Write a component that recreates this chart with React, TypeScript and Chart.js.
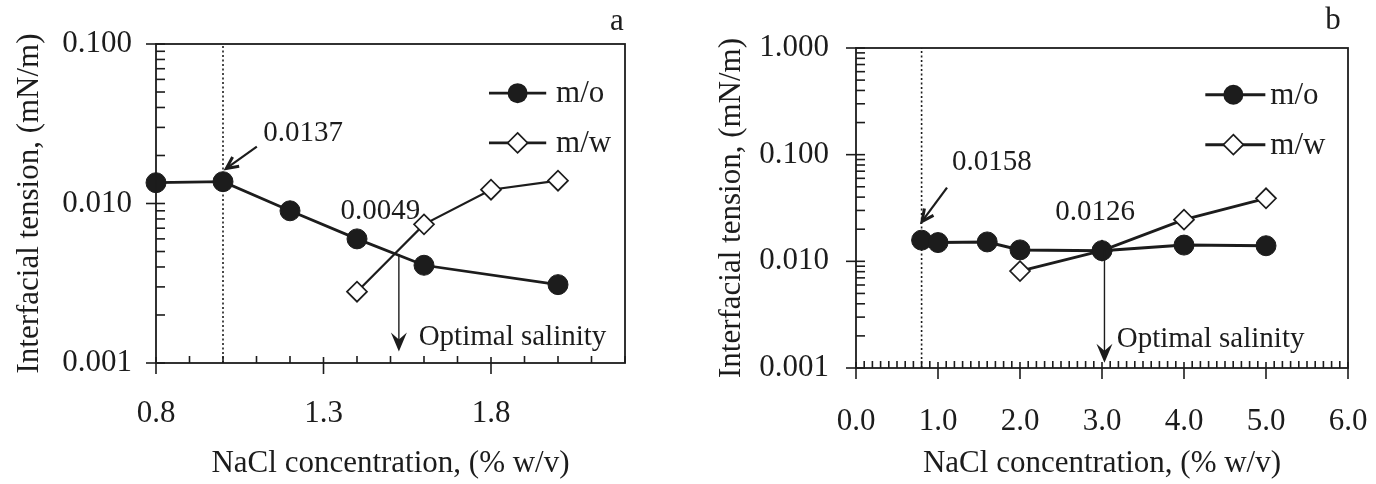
import { useEffect, useRef } from 'react';
import { Chart, registerables } from 'chart.js';

Chart.register(...registerables);

const FONT = '"Liberation Serif", "Times New Roman", Times, serif';
const INK = '#1c1c1c';

// ---------- Panel a data ----------
const saltA_mo = [0.8, 1.0, 1.2, 1.4, 1.6, 2.0];
const iftA_mo = [0.0135, 0.0137, 0.009, 0.006, 0.0041, 0.0031];
const saltA_mw = [1.4, 1.6, 1.8, 2.0];
const iftA_mw = [0.0028, 0.0074, 0.0122, 0.0139];
const xTicksA = [0.8, 1.3, 1.8];
const yTicksA = [0.001, 0.01, 0.1];

// ---------- Panel b data ----------
const saltB_mo = [0.8, 1.0, 1.6, 2.0, 3.0, 4.0, 5.0];
const iftB_mo = [0.0158, 0.015, 0.0152, 0.0128, 0.0126, 0.0142, 0.014];
const saltB_mw = [2.0, 3.0, 4.0, 5.0];
const iftB_mw = [0.0081, 0.0126, 0.0246, 0.039];
const xTicksB = [0, 1, 2, 3, 4, 5, 6];
const yTicksB = [0.001, 0.01, 0.1, 1];

const seriesNames = ['m/o', 'm/w'];
const xTitle = 'NaCl concentration, (% w/v)';
const yTitle = 'Interfacial tension, (mN/m)';

type Note = { text: string; x: number; y: number };
type Spec = {
  label: string;
  labelPos: [number, number];
  moX: number[]; moY: number[]; mwX: number[]; mwY: number[];
  xMin: number; xMax: number; xMajor: number[]; xMinorStep: number; xDigits: number;
  yMin: number; yMax: number; yTicks: number[];
  yAxisWidth: number; xAxisHeight: number; pad: { top: number; right: number };
  yTickPad: number; xTickPad: number; yTitlePad: number;
  lineW: number; mwLineW: number; moR: number; mwR: number;
  criticalX: number;
  notes: Note[];
  pointerFrom: [number, number]; pointerTo: [number, number];
  optimum: { x: number; yTop: number; yTip: number };
  optimumText: Note;
  legend: { x1: number; x2: number; xm: number; xt: number; y1: number; y2: number };
};

const specA: Spec = {
  label: 'a', labelPos: [617, 22],
  moX: saltA_mo, moY: iftA_mo, mwX: saltA_mw, mwY: iftA_mw,
  xMin: 0.8, xMax: 2.2, xMajor: xTicksA, xMinorStep: 0.1, xDigits: 1,
  yMin: 0.001, yMax: 0.1, yTicks: yTicksA,
  yAxisWidth: 156, xAxisHeight: 121, pad: { top: 44, right: 63 },
  yTickPad: 24, xTickPad: 32, yTitlePad: 11,
  lineW: 2.8, mwLineW: 2.2, moR: 10, mwR: 10,
  criticalX: 1.0,
  notes: [
    { text: '0.0137', x: 1.12, y: 0.0277 },
    { text: '0.0049', x: 1.351, y: 0.0089 },
  ],
  pointerFrom: [1.101, 0.0227], pointerTo: [1.01, 0.0166],
  optimum: { x: 1.525, yTop: 0.0048, yTip: 0.00118 },
  optimumText: { text: 'Optimal salinity', x: 1.584, y: 0.00144 },
  legend: { x1: 0.71, x2: 0.832, xm: 0.771, xt: 0.853, y1: 0.154, y2: 0.31 },
};

const specB: Spec = {
  label: 'b', labelPos: [645, 21],
  moX: saltB_mo, moY: iftB_mo, mwX: saltB_mw, mwY: iftB_mw,
  xMin: 0, xMax: 6, xMajor: xTicksB, xMinorStep: 0.1, xDigits: 1,
  yMin: 0.001, yMax: 1, yTicks: yTicksB,
  yAxisWidth: 168, xAxisHeight: 116, pad: { top: 48, right: 28 },
  yTickPad: 27, xTickPad: 35, yTitlePad: 25,
  lineW: 3, mwLineW: 2.8, moR: 10, mwR: 10,
  criticalX: 0.8,
  notes: [
    { text: '0.0158', x: 1.17, y: 0.0841 },
    { text: '0.0126', x: 2.43, y: 0.0286 },
  ],
  pointerFrom: [1.11, 0.0491], pointerTo: [0.805, 0.0237],
  optimum: { x: 3.03, yTop: 0.0126, yTip: 0.00112 },
  optimumText: { text: 'Optimal salinity', x: 3.18, y: 0.00185 },
  legend: { x1: 0.71, x2: 0.832, xm: 0.767, xt: 0.842, y1: 0.146, y2: 0.302 },
};

function drawCircle(ctx: CanvasRenderingContext2D, x: number, y: number, r: number) {
  ctx.beginPath();
  ctx.arc(x, y, r, 0, Math.PI * 2);
  ctx.fillStyle = INK;
  ctx.fill();
}
function drawDiamond(ctx: CanvasRenderingContext2D, x: number, y: number, r: number) {
  ctx.beginPath();
  ctx.moveTo(x, y - r);
  ctx.lineTo(x + r, y);
  ctx.lineTo(x, y + r);
  ctx.lineTo(x - r, y);
  ctx.closePath();
  ctx.fillStyle = '#fff';
  ctx.fill();
  ctx.lineWidth = 1.7;
  ctx.strokeStyle = INK;
  ctx.stroke();
}

function decorPlugin(p: Spec) {
  return {
    id: 'decor' + p.label,
    beforeDatasetsDraw(chart: any) {
      const { ctx, chartArea: a, scales } = chart;
      const px = scales.x.getPixelForValue(p.criticalX);
      ctx.save();
      ctx.strokeStyle = INK;
      ctx.lineWidth = 1.6;
      ctx.setLineDash([2, 2.5]);
      ctx.beginPath();
      ctx.moveTo(px, a.bottom);
      ctx.lineTo(px, a.top);
      ctx.stroke();
      ctx.restore();
    },
    afterDraw(chart: any) {
      const { ctx, chartArea: a, scales } = chart;
      const xs = scales.x;
      const ys = scales.y;
      ctx.save();
      // frame
      ctx.strokeStyle = INK;
      ctx.lineWidth = 1.8;
      ctx.strokeRect(a.left, a.top, a.right - a.left, a.bottom - a.top);
      // x ticks
      ctx.lineWidth = 1.6;
      const n = Math.round((p.xMax - p.xMin) / p.xMinorStep);
      for (let i = 0; i <= n; i++) {
        const v = p.xMin + i * p.xMinorStep;
        const isMajor = p.xMajor.some((m) => Math.abs(m - v) < 1e-6);
        const px = xs.getPixelForValue(v);
        ctx.beginPath();
        if (isMajor) {
          ctx.moveTo(px, a.bottom + 11);
          ctx.lineTo(px, a.bottom - 6);
        } else {
          ctx.moveTo(px, a.bottom);
          ctx.lineTo(px, a.bottom - 7);
        }
        ctx.stroke();
      }
      // y ticks
      for (let d = p.yMin; d < p.yMax * 0.999; d *= 10) {
        for (let k = 2; k <= 9; k++) {
          const py = ys.getPixelForValue(k * d);
          ctx.beginPath();
          ctx.moveTo(a.left, py);
          ctx.lineTo(a.left + 9, py);
          ctx.stroke();
        }
      }
      p.yTicks.forEach((v) => {
        const py = ys.getPixelForValue(v);
        ctx.beginPath();
        ctx.moveTo(a.left - 10, py);
        ctx.lineTo(a.left + 9, py);
        ctx.stroke();
      });

      // legend
      const w = a.right - a.left;
      const h = a.bottom - a.top;
      const lx1 = a.left + p.legend.x1 * w;
      const lx2 = a.left + p.legend.x2 * w;
      const lxm = a.left + p.legend.xm * w;
      const lxt = a.left + p.legend.xt * w;
      const ly = [a.top + p.legend.y1 * h, a.top + p.legend.y2 * h];
      ctx.font = `31px ${FONT}`;
      ctx.textBaseline = 'middle';
      ctx.textAlign = 'left';
      seriesNames.forEach((name, i) => {
        ctx.strokeStyle = INK;
        ctx.lineWidth = p.lineW;
        ctx.beginPath();
        ctx.moveTo(lx1, ly[i]);
        ctx.lineTo(lx2, ly[i]);
        ctx.stroke();
        if (i === 0) drawCircle(ctx, lxm, ly[i], p.moR);
        else drawDiamond(ctx, lxm, ly[i], p.mwR);
        ctx.fillStyle = INK;
        ctx.fillText(name, lxt, ly[i] + 1);
      });

      // notes
      ctx.font = `29px ${FONT}`;
      ctx.fillStyle = INK;
      p.notes.forEach((nt) => {
        ctx.fillText(nt.text, xs.getPixelForValue(nt.x), ys.getPixelForValue(nt.y));
      });
      ctx.fillText(
        p.optimumText.text,
        xs.getPixelForValue(p.optimumText.x),
        ys.getPixelForValue(p.optimumText.y)
      );

      // pointer arrow
      const fx = xs.getPixelForValue(p.pointerFrom[0]);
      const fy = ys.getPixelForValue(p.pointerFrom[1]);
      const tx = xs.getPixelForValue(p.pointerTo[0]);
      const ty = ys.getPixelForValue(p.pointerTo[1]);
      const ang = Math.atan2(ty - fy, tx - fx);
      ctx.strokeStyle = INK;
      ctx.lineWidth = 2.2;
      ctx.beginPath();
      ctx.moveTo(fx, fy);
      ctx.lineTo(tx, ty);
      ctx.stroke();
      ctx.lineWidth = 3;
      ctx.lineJoin = 'miter';
      ctx.beginPath();
      ctx.moveTo(tx - 13 * Math.cos(ang - 0.45), ty - 13 * Math.sin(ang - 0.45));
      ctx.lineTo(tx, ty);
      ctx.lineTo(tx - 13 * Math.cos(ang + 0.45), ty - 13 * Math.sin(ang + 0.45));
      ctx.stroke();

      // optimum arrow
      const ox = xs.getPixelForValue(p.optimum.x);
      const oy1 = ys.getPixelForValue(p.optimum.yTop);
      const oy2 = ys.getPixelForValue(p.optimum.yTip);
      ctx.lineWidth = 1.4;
      ctx.beginPath();
      ctx.moveTo(ox, oy1);
      ctx.lineTo(ox, oy2 - 8);
      ctx.stroke();
      ctx.beginPath();
      ctx.moveTo(ox, oy2);
      ctx.lineTo(ox - 8, oy2 - 19);
      ctx.lineTo(ox, oy2 - 12);
      ctx.lineTo(ox + 8, oy2 - 19);
      ctx.closePath();
      ctx.fillStyle = INK;
      ctx.fill();

      // panel label
      ctx.font = `31px ${FONT}`;
      ctx.textAlign = 'center';
      ctx.fillStyle = INK;
      ctx.fillText(p.label, p.labelPos[0], p.labelPos[1]);
      ctx.restore();
    },
  };
}

function buildConfig(p: Spec): any {
  const tickFont = { family: FONT, size: 31 };
  return {
    type: 'line',
    data: {
      datasets: [
        {
          label: seriesNames[0],
          data: p.moX.map((x, i) => ({ x, y: p.moY[i] })),
          borderColor: INK,
          borderWidth: p.lineW,
          pointStyle: 'circle',
          pointRadius: p.moR,
          pointBackgroundColor: INK,
          pointBorderColor: INK,
          pointBorderWidth: 1,
          fill: false,
          tension: 0,
          clip: false,
        },
        {
          label: seriesNames[1],
          data: p.mwX.map((x, i) => ({ x, y: p.mwY[i] })),
          borderColor: INK,
          borderWidth: p.mwLineW,
          pointStyle: 'rectRot',
          pointRadius: p.mwR,
          pointBackgroundColor: '#ffffff',
          pointBorderColor: INK,
          pointBorderWidth: 1.7,
          fill: false,
          tension: 0,
          clip: false,
        },
      ],
    },
    options: {
      animation: false,
      responsive: false,
      devicePixelRatio: 1,
      events: [],
      layout: { padding: { left: 0, top: p.pad.top, right: p.pad.right, bottom: 0 } },
      plugins: { legend: { display: false }, tooltip: { enabled: false } },
      scales: {
        x: {
          type: 'linear',
          position: 'bottom',
          min: p.xMin,
          max: p.xMax,
          afterBuildTicks: (s: any) => {
            s.ticks = p.xMajor.map((v) => ({ value: v }));
          },
          afterFit: (s: any) => {
            s.height = p.xAxisHeight;
            s.paddingLeft = 0;
            s.paddingRight = 0;
          },
          grid: { display: false, drawTicks: false },
          border: { display: false },
          ticks: {
            autoSkip: false,
            maxRotation: 0,
            minRotation: 0,
            padding: p.xTickPad,
            font: tickFont,
            color: INK,
            callback: (v: any) => Number(v).toFixed(p.xDigits),
          },
          title: {
            display: true,
            text: xTitle,
            font: tickFont,
            color: INK,
            padding: { top: 0, bottom: 2 },
          },
        },
        y: {
          type: 'logarithmic',
          position: 'left',
          min: p.yMin,
          max: p.yMax,
          afterBuildTicks: (s: any) => {
            s.ticks = p.yTicks.map((v) => ({ value: v }));
          },
          afterFit: (s: any) => {
            s.width = p.yAxisWidth;
            s.paddingTop = 0;
            s.paddingBottom = 0;
          },
          grid: { display: false, drawTicks: false },
          border: { display: false },
          ticks: {
            autoSkip: false,
            padding: p.yTickPad,
            font: tickFont,
            color: INK,
            callback: (v: any) => Number(v).toFixed(3),
          },
          title: {
            display: true,
            text: yTitle,
            font: tickFont,
            color: INK,
            padding: { top: p.yTitlePad, bottom: 0 },
          },
        },
      },
    },
    plugins: [decorPlugin(p)],
  };
}

function Panel({ spec, left }: { spec: Spec; left: number }) {
  const ref = useRef<HTMLCanvasElement>(null);
  useEffect(() => {
    const chart = new Chart(ref.current as HTMLCanvasElement, buildConfig(spec));
    return () => chart.destroy();
  }, [spec]);
  return (
    <canvas
      ref={ref}
      width={688}
      height={484}
      style={{ position: 'absolute', left, top: 0, width: 688, height: 484 }}
    />
  );
}

export default function App() {
  return (
    <div
      style={{
        position: 'absolute',
        left: 0,
        top: 0,
        width: 1376,
        height: 484,
        background: '#ffffff',
        overflow: 'hidden',
      }}
    >
      <Panel spec={specA} left={0} />
      <Panel spec={specB} left={688} />
    </div>
  );
}
